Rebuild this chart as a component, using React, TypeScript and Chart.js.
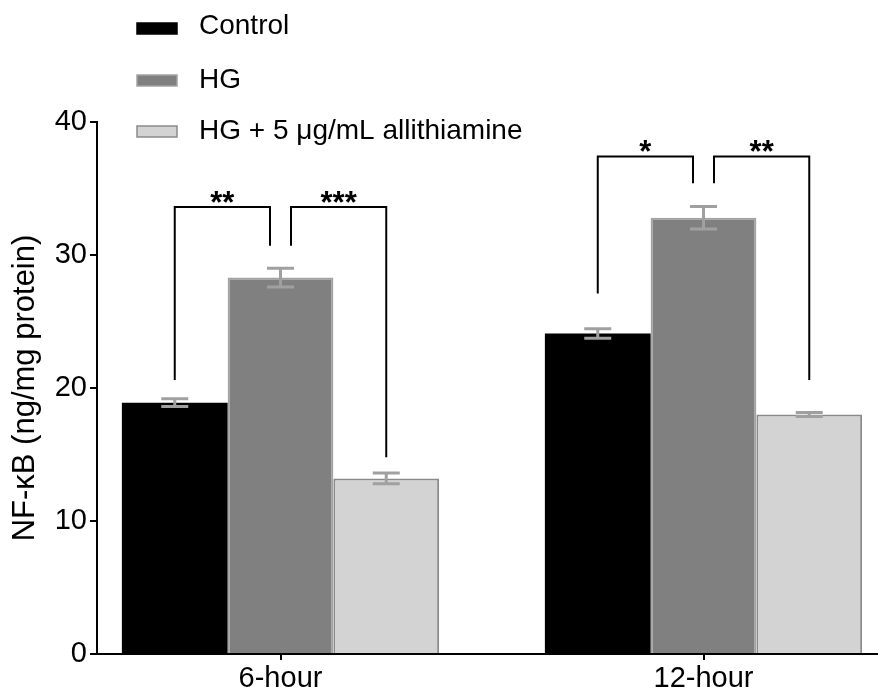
import React, { useEffect, useRef } from 'react';
import { Chart, registerables } from 'chart.js';

Chart.register(...registerables);

const categories = ['6-hour', '12-hour'];
const seriesNames = ['Control', 'HG', 'HG + 5 μg/mL allithiamine'];
const controlValues = [18.9, 24.1];
const hgValues = [28.3, 32.8];
const allithiamineValues = [13.2, 18.0];
const controlErrors = [0.3, 0.35];
const hgErrors = [0.7, 0.85];
const allithiamineErrors = [0.4, 0.15];
const yTicks = [0, 10, 20, 30, 40];

// significance brackets
const bracketGroup = [0, 0, 1, 1];
const bracketFrom = [0, 1, 0, 1];
const bracketTo = [1, 2, 1, 2];
const bracketTop = [33.6, 33.6, 37.4, 37.4];
const bracketLeftEnd = [20.6, 30.7, 27.1, 35.4];
const bracketRightEnd = [30.7, 14.8, 35.4, 20.6];
const bracketLabels = ['**', '***', '*', '**'];

const FONT = "'Liberation Sans', Arial, Helvetica, sans-serif";
const fills = ['#000000', '#808080', '#d3d3d3'];
const borders = ['#000000', '#a3a3a3', '#8a8a8a'];

const overlayPlugin = {
  id: 'overlay',
  afterDatasetsDraw(chart: any) {
    const ctx = chart.ctx as CanvasRenderingContext2D;
    const yS = chart.scales.y;
    const vals = [controlValues, hgValues, allithiamineValues];
    const errs = [controlErrors, hgErrors, allithiamineErrors];
    ctx.save();
    // error bars
    ctx.strokeStyle = '#a0a0a0';
    ctx.lineWidth = 3;
    for (let s = 0; s < 3; s++) {
      const meta = chart.getDatasetMeta(s);
      meta.data.forEach((bar: any, i: number) => {
        const x = bar.x;
        const t = yS.getPixelForValue(vals[s][i] + errs[s][i]);
        const b = yS.getPixelForValue(vals[s][i] - errs[s][i]);
        ctx.beginPath();
        ctx.moveTo(x, t);
        ctx.lineTo(x, b);
        ctx.moveTo(x - 13.5, t);
        ctx.lineTo(x + 13.5, t);
        ctx.moveTo(x - 13.5, b);
        ctx.lineTo(x + 13.5, b);
        ctx.stroke();
      });
    }
    // brackets
    ctx.strokeStyle = '#000';
    ctx.lineWidth = 2;
    ctx.fillStyle = '#000';
    ctx.font = `bold 31px ${FONT}`;
    ctx.textAlign = 'center';
    ctx.textBaseline = 'alphabetic';
    for (let k = 0; k < bracketLabels.length; k++) {
      const g = bracketGroup[k];
      const from = bracketFrom[k];
      const to = bracketTo[k];
      let x1 = chart.getDatasetMeta(from).data[g].x;
      let x2 = chart.getDatasetMeta(to).data[g].x;
      if (from === 1) x1 += 10.5;
      if (to === 1) x2 -= 10.5;
      const yt = yS.getPixelForValue(bracketTop[k]);
      const yl = yS.getPixelForValue(bracketLeftEnd[k]);
      const yr = yS.getPixelForValue(bracketRightEnd[k]);
      ctx.beginPath();
      ctx.moveTo(x1, yl);
      ctx.lineTo(x1, yt);
      ctx.lineTo(x2, yt);
      ctx.lineTo(x2, yr);
      ctx.stroke();
      const m = ctx.measureText(bracketLabels[k]);
      const cy = yt - 10.5;
      const base = cy + (m.actualBoundingBoxAscent - m.actualBoundingBoxDescent) / 2;
      ctx.fillText(bracketLabels[k], (x1 + x2) / 2, base);
    }
    ctx.restore();
  },
  afterDraw(chart: any) {
    const ctx = chart.ctx as CanvasRenderingContext2D;
    ctx.save();
    const rowY = [28.5, 80.5, 131.5];
    const textY = [26.5, 80, 131.5];
    for (let s = 0; s < 3; s++) {
      ctx.fillStyle = fills[s];
      ctx.fillRect(137, rowY[s] - 5.5, 40, 11);
      ctx.strokeStyle = borders[s];
      ctx.lineWidth = 1.5;
      ctx.strokeRect(137, rowY[s] - 5.5, 40, 11);
      ctx.fillStyle = '#000';
      ctx.font = `28px ${FONT}`;
      ctx.textAlign = 'left';
      ctx.textBaseline = 'middle';
      ctx.fillText(seriesNames[s], 199, textY[s]);
    }
    ctx.restore();
  },
};

export default function App() {
  const ref = useRef<HTMLCanvasElement | null>(null);
  useEffect(() => {
    if (!ref.current) return;
    const seriesValues = [controlValues, hgValues, allithiamineValues];
    const chart = new Chart(ref.current, {
      type: 'bar',
      data: {
        datasets: seriesNames.map((name, s) => ({
          label: name,
          data: seriesValues[s].map((v, i) => ({ x: i, y: v })),
          backgroundColor: fills[s],
          borderColor: borders[s],
          borderWidth: s === 0 ? 0 : 2,
          categoryPercentage: 0.75,
          barPercentage: 1,
        })),
      },
      options: {
        animation: false,
        responsive: true,
        maintainAspectRatio: false,
        layout: { padding: { top: 122, right: 0, left: 0, bottom: 0 } },
        plugins: { legend: { display: false }, tooltip: { enabled: false } },
        scales: {
          x: {
            type: 'linear',
            min: -0.4338,
            max: 1.4125,
            offset: false,
            afterBuildTicks: (s: any) => {
              s.ticks = categories.map((_, i) => ({ value: i }));
            },
            afterFit: (s: any) => {
              s.height = 37;
            },
            grid: { offset: false, drawOnChartArea: false, drawTicks: true, tickLength: 6, color: '#000', lineWidth: 2 },
            border: { display: true, color: '#000', width: 2 },
            ticks: {
              callback: (v: any) => categories[v] ?? '',
              autoSkip: false,
              maxRotation: 0,
              padding: 2,
              color: '#000',
              font: { size: 29, family: FONT },
            },
          },
          y: {
            min: 0,
            max: 40,
            afterBuildTicks: (s: any) => {
              s.ticks = yTicks.map((v) => ({ value: v }));
            },
            afterFit: (s: any) => {
              s.width = 97;
            },
            grid: { drawOnChartArea: false, drawTicks: true, tickLength: 7, color: '#000', lineWidth: 2 },
            border: { display: true, color: '#000', width: 2 },
            ticks: { padding: 3, color: '#000', font: { size: 29, family: FONT } },
            title: {
              display: true,
              text: 'NF-κB (ng/mg protein)',
              color: '#000',
              font: { size: 31, family: FONT },
              padding: { top: 7, bottom: 0 },
            },
          },
        },
      },
      plugins: [overlayPlugin],
    });
    return () => chart.destroy();
  }, []);
  return (
    <div style={{ position: 'fixed', left: 0, top: 0, width: 878, height: 691, background: '#fff' }}>
      <canvas ref={ref} />
    </div>
  );
}
